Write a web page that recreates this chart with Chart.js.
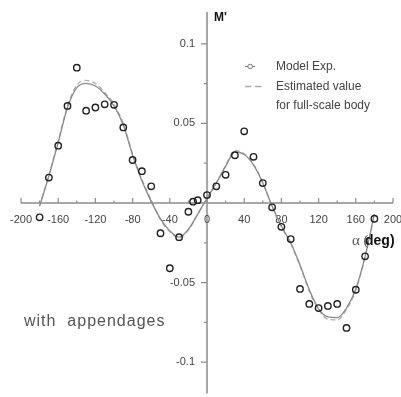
<!DOCTYPE html>
<html><head><meta charset="utf-8">
<script src="https://cdn.jsdelivr.net/npm/chart.js@4/dist/chart.umd.min.js"></script>
<style>html,body{margin:0;padding:0;background:#fff;overflow:hidden}#wrap{width:401px;height:397px;position:relative}</style>
</head><body><div id="wrap"><canvas id="c" width="401" height="397"></canvas></div>
<script>
// Model experiment points (alpha in deg, M')
const expAngles = [-180,-170,-160,-150,-140,-130,-120,-110,-100,-90,-80,-70,-60,-50,-40,-30,-20,-15,-10,0,10,20,30,40,50,60,70,80,90,100,110,120,130,140,150,160,170,180];
const expValues = [-0.009,0.016,0.036,0.061,0.085,0.058,0.060,0.062,0.0617,0.0475,0.027,0.020,0.0105,-0.019,-0.041,-0.0215,-0.0055,0.0008,0.0018,0.005,0.0105,0.0177,0.030,0.045,0.029,0.0125,-0.0027,-0.015,-0.0227,-0.054,-0.0634,-0.066,-0.0647,-0.0634,-0.0785,-0.0545,-0.0335,-0.0099];
// Curves read at 10 deg steps
const curveAngles = [-180,-170,-160,-150,-140,-130,-120,-110,-100,-90,-80,-70,-60,-50,-40,-30,-20,-10,0,10,20,30,40,50,60,70,80,90,100,110,120,130,140,150,160,170,180];
const fitValues = [-0.002,0.017,0.038,0.060,0.0725,0.0752,0.0735,0.0685,0.061,0.049,0.030,0.014,0.001,-0.010,-0.0175,-0.0215,-0.0165,-0.007,0.003,0.0125,0.023,0.0322,0.0305,0.024,0.0126,-0.002,-0.0145,-0.025,-0.039,-0.0545,-0.0665,-0.0715,-0.072,-0.066,-0.054,-0.0335,-0.007];
const fullScaleValues = [-0.002,0.0175,0.039,0.061,0.074,0.077,0.075,0.0695,0.062,0.050,0.031,0.015,0.002,-0.0105,-0.018,-0.022,-0.017,-0.0072,0.003,0.0128,0.0235,0.033,0.031,0.0245,0.0128,-0.002,-0.015,-0.0255,-0.0395,-0.0555,-0.067,-0.073,-0.0735,-0.067,-0.0548,-0.034,-0.007];

const xTickValues = [-200,-160,-120,-80,-40,0,40,80,120,160,200];
const xTickLabels = ['-200','-160','-120','-80','-40','0','40','80','120','160','200'];
const xMinorTicks = [-180,-140,-100,-60,-20,20,60,100,140,180];
const yTickValues = [0.1,0.05,-0.05,-0.1];
const yTickLabels = ['0.1','0.05','-0.05','-0.1'];
const yMinorTicks = [0.075,0.025,-0.025,-0.075];
const seriesNames = ['Model Exp.','Estimated value','for full-scale body'];
const yTitle = "M'";
const xTitleSymbol = 'α (';
const xTitleUnit = 'deg)';
const noteText = 'with  appendages';

const SANS = '"Liberation Sans", Arial, sans-serif';
const SERIF = '"Liberation Serif", "Times New Roman", serif';

const axesPlugin = {
  id: 'axesPlugin',
  beforeDatasetsDraw(chart) {
    const ctx = chart.ctx, xs = chart.scales.x, ys = chart.scales.y, ca = chart.chartArea;
    const x0 = xs.getPixelForValue(0), y0 = ys.getPixelForValue(0);
    ctx.save();
    ctx.strokeStyle = '#8c8c8c';
    ctx.lineWidth = 1.5;
    ctx.beginPath();
    ctx.moveTo(xs.getPixelForValue(-200), y0); ctx.lineTo(xs.getPixelForValue(200), y0);
    ctx.moveTo(x0, ca.top); ctx.lineTo(x0, ca.bottom + 2);
    ctx.stroke();
    ctx.lineWidth = 1.2;
    ctx.beginPath();
    xTickValues.forEach(v => { const p = xs.getPixelForValue(v); ctx.moveTo(p, y0); ctx.lineTo(p, y0 - 5); });
    xMinorTicks.forEach(v => { const p = xs.getPixelForValue(v); ctx.moveTo(p, y0); ctx.lineTo(p, y0 - 2.5); });
    yTickValues.forEach(v => { const p = ys.getPixelForValue(v); ctx.moveTo(x0, p); ctx.lineTo(x0 - 6, p); });
    yMinorTicks.forEach(v => { const p = ys.getPixelForValue(v); ctx.moveTo(x0, p); ctx.lineTo(x0 - 3, p); });
    ctx.stroke();
    ctx.fillStyle = '#444';
    ctx.font = '11px ' + SANS;
    ctx.textAlign = 'center'; ctx.textBaseline = 'middle';
    xTickValues.forEach((v, i) => ctx.fillText(xTickLabels[i], xs.getPixelForValue(v), y0 + 17));
    ctx.textAlign = 'right';
    yTickValues.forEach((v, i) => ctx.fillText(yTickLabels[i], x0 - 12, ys.getPixelForValue(v)));
    ctx.restore();
  },
  afterDraw(chart) {
    const ctx = chart.ctx;
    ctx.save();
    ctx.textBaseline = 'middle'; ctx.textAlign = 'left';
    // axis titles
    ctx.fillStyle = '#111';
    ctx.font = 'bold 12px ' + SANS;
    ctx.fillText(yTitle, 214, 18);
    ctx.fillStyle = '#555';
    ctx.font = '15px ' + SERIF;
    ctx.fillText(xTitleSymbol, 352, 241);
    ctx.fillStyle = '#111';
    ctx.font = 'bold 14px ' + SANS;
    ctx.fillText(xTitleUnit, 365, 241);
    // note
    ctx.fillStyle = '#555';
    ctx.font = '16px ' + SANS;
    ctx.letterSpacing = '1px';
    ctx.fillText(noteText, 24, 322);
    ctx.letterSpacing = '0px';
    // legend
    ctx.strokeStyle = '#777'; ctx.lineWidth = 1;
    ctx.beginPath(); ctx.moveTo(245, 66.5); ctx.lineTo(248, 66.5); ctx.moveTo(252.5, 66.5); ctx.lineTo(255, 66.5); ctx.stroke();
    ctx.beginPath(); ctx.arc(250.2, 66.5, 2.3, 0, Math.PI * 2); ctx.stroke();
    ctx.strokeStyle = '#aaa'; ctx.lineWidth = 1.3;
    ctx.beginPath(); ctx.moveTo(245, 86.5); ctx.lineTo(251.5, 86.5); ctx.moveTo(255, 86.5); ctx.lineTo(261.5, 86.5); ctx.stroke();
    ctx.fillStyle = '#444';
    ctx.font = '12px ' + SANS;
    ctx.fillText(seriesNames[0], 276, 66.5);
    ctx.fillText(seriesNames[1], 276, 87);
    ctx.fillText(seriesNames[2], 276, 106);
    ctx.restore();
  }
};

new Chart(document.getElementById('c'), {
  type: 'scatter',
  data: {
    datasets: [
      {
        label: seriesNames[0],
        data: expAngles.map((a, i) => ({ x: a, y: expValues[i] })),
        showLine: false,
        pointStyle: 'circle',
        pointRadius: 3.2,
        pointBorderWidth: 1.4,
        pointBorderColor: '#222',
        pointBackgroundColor: 'rgba(0,0,0,0)'
      },
      {
        label: 'fit',
        data: curveAngles.map((a, i) => ({ x: a, y: fitValues[i] })),
        showLine: true,
        pointRadius: 0,
        borderColor: '#8a8a8a',
        borderWidth: 1.3,
        cubicInterpolationMode: 'monotone'
      },
      {
        label: seriesNames[1] + ' ' + seriesNames[2],
        data: curveAngles.map((a, i) => ({ x: a, y: fullScaleValues[i] })),
        showLine: true,
        pointRadius: 0,
        borderColor: '#b0b0b0',
        borderWidth: 1.3,
        borderDash: [5, 3],
        cubicInterpolationMode: 'monotone'
      }
    ]
  },
  options: {
    responsive: false,
    animation: false,
    devicePixelRatio: 1,
    layout: { padding: { left: 21, right: 8, top: 12, bottom: 0 } },
    scales: {
      x: { type: 'linear', min: -200, max: 200, display: false },
      y: { type: 'linear', min: -0.1185, max: 0.12, display: false }
    },
    plugins: { legend: { display: false }, tooltip: { enabled: false } }
  },
  plugins: [axesPlugin]
});
</script>
</body></html>
